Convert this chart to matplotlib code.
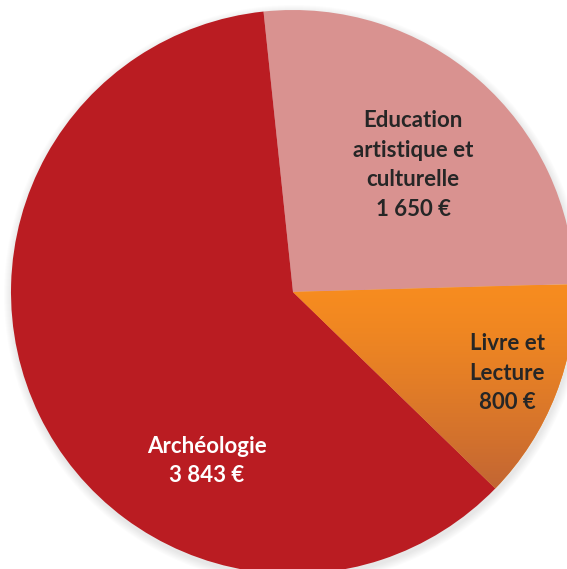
import numpy as np
import matplotlib
matplotlib.use("Agg")
import matplotlib.pyplot as plt
from matplotlib.patches import Circle

# data
categories = ["Education\nartistique et\nculturelle", "Livre et\nLecture", "Archéologie"]
values = [1650, 800, 3843]
amounts = ["1 650 €", "800 €", "3 843 €"]
colors = ["#D99290", "#F68B20", "#BA1C22"]
text_colors = ["#262626", "#262626", "white"]

plt.rcParams['font.family'] = ['Lato', 'DejaVu Sans']

fig = plt.figure(figsize=(5.67, 5.69), dpi=100)
ax = fig.add_axes([0, 0, 1, 1])

cx, cy, r = 293, 292, 282

# soft shadow
for i in range(8):
    ax.add_patch(Circle((cx + 1, cy + 3), r + 8 - i, color='black', alpha=0.012, lw=0, zorder=0))

wedges, _ = ax.pie(values, colors=colors, startangle=-96, counterclock=True,
                   center=(cx, cy), radius=r, frame=True,
                   wedgeprops=dict(linewidth=0))
ax.set_xlim(0, 567)
ax.set_ylim(569, 0)
ax.set_aspect('equal')
ax.axis('off')

# vertical gradient on the orange wedge (top orange -> brownish bottom)
top = np.array([0xF7, 0x8C, 0x1F]) / 255
bot = np.array([0xC0, 0x64, 0x34]) / 255
t = np.linspace(0, 1, 256)
t = t ** 1.3
img = (top[None, :] + (bot - top)[None, :] * t[:, None]).reshape(256, 1, 3)
im = ax.imshow(img, extent=(293, 567, 495, 285), origin='upper', aspect='auto', zorder=2)
im.set_clip_path(wedges[1])
ax.set_xlim(0, 567)
ax.set_ylim(569, 0)

# labels
label_pos = [(413, 165), (507, 373), (207, 461)]
for cat, amt, (x, y), tc in zip(categories, amounts, label_pos, text_colors):
    ax.text(x, y, cat + "\n" + amt, ha='center', va='center', fontsize=16,
            fontweight='bold', color=tc, linespacing=1.5, zorder=5)

fig.savefig("out.png", dpi=100)
